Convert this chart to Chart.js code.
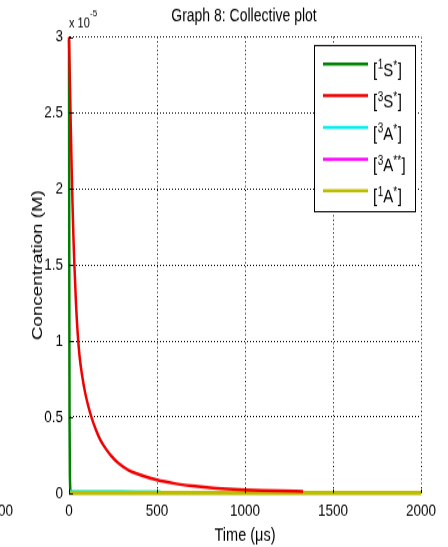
<!DOCTYPE html>
<html>
<head>
<meta charset="utf-8">
<title>Graph 8: Collective plot</title>
<script src="https://cdn.jsdelivr.net/npm/chart.js@4.4.1/dist/chart.umd.min.js"></script>
<style>
  html, body { margin: 0; padding: 0; background: #fff; }
  #figure { width: 448px; height: 547px; overflow: hidden; }
  /* the figure is drawn 438px tall and stretched to fill 547px */
  #wrap { width: 448px; height: 438px; transform: scaleY(1.24886); transform-origin: 0 0; }
  canvas { display: block; }
</style>
</head>
<body>
<div id="figure"><div id="wrap"><canvas id="collective" width="448" height="438"></canvas></div></div>
<script>
/* Concentrations are in units of 1e-5 M, times in microseconds */

const timeS1 = [0, 1, 2, 3, 5, 10, 50, 500, 1000, 2000];
const concS1 = [2.98, 2.0, 1.1, 0.5, 0.12, 0.01, 0, 0, 0, 0];

const timeS3 = [0, 5, 10, 15, 20, 25, 30, 40, 50, 60, 75, 90, 110, 130, 155, 180, 210, 240, 280, 340, 400, 500, 600, 700, 800, 900, 1000, 1100, 1200, 1330];
const concS3 = [3.0, 2.7, 2.42, 2.14, 1.9, 1.69, 1.52, 1.24, 1.04, 0.9, 0.77, 0.67, 0.57, 0.49, 0.41, 0.345, 0.29, 0.245, 0.197, 0.15, 0.122, 0.086, 0.063, 0.047, 0.035, 0.027, 0.021, 0.017, 0.014, 0.011];

const timeA3 = [0, 10, 100, 300, 520];
const concA3 = [0, 0.012, 0.013, 0.012, 0.011];

const timeA3b = [0, 500, 1000, 1500, 2000];
const concA3b = [0, 0, 0, 0, 0];

const timeA1 = [0, 500, 1000, 1500, 2000];
const concA1 = [0, 0, 0, 0, 0];

const xTicks = [0, 500, 1000, 1500, 2000];
const yTicks = [0, 0.5, 1, 1.5, 2, 2.5, 3];

// legend entries: [superscript before, species, superscript after]
const legendParts = [
  ['1', 'S', '*'],
  ['3', 'S', '*'],
  ['3', 'A', '*'],
  ['3', 'A', '**'],
  ['1', 'A', '*'],
];

const SANS = "'Liberation Sans', Arial, Helvetica, sans-serif";

function pts(ts, cs) {
  return ts.map((t, i) => ({ x: t, y: cs[i] }));
}

function series(label, ts, cs, color, width, order) {
  return {
    label,
    data: pts(ts, cs),
    borderColor: color,
    backgroundColor: color,
    borderWidth: width,
    pointRadius: 0,
    fill: false,
    clip: false,
    cubicInterpolationMode: 'monotone',
    order,
  };
}

const datasets = [
  series('[1S*]', timeS1, concS1, '#008000', 2.5, 4),
  series('[3S*]', timeS3, concS3, '#f00000', 2.5, 0),
  series('[3A*]', timeA3, concA3, '#00f0f0', 2, 2),
  series('[3A**]', timeA3b, concA3b, '#ff00ff', 2.5, 3),
  series('[1A*]', timeA1, concA1, '#bdbd00', 3.5, 1),
];

/* Title, exponent, inward ticks and the boxed legend */
const decorations = {
  id: 'decorations',
  afterDraw(chart) {
    const { ctx, chartArea, scales } = chart;
    const x = scales.x, y = scales.y;
    ctx.save();

    ctx.strokeStyle = '#000';
    ctx.lineWidth = 1;
    xTicks.forEach(v => {
      const px = Math.round(x.getPixelForValue(v)) + 0.5;
      ctx.beginPath();
      ctx.moveTo(px, chartArea.bottom);
      ctx.lineTo(px, chartArea.bottom - 3);
      ctx.stroke();
    });
    yTicks.forEach(v => {
      const py = Math.round(y.getPixelForValue(v)) + 0.5;
      ctx.beginPath();
      ctx.moveTo(chartArea.left, py);
      ctx.lineTo(chartArea.left + 4, py);
      ctx.stroke();
    });

    ctx.fillStyle = '#000';
    ctx.textBaseline = 'alphabetic';
    ctx.textAlign = 'center';
    ctx.font = '14px ' + SANS;
    ctx.fillText('Graph 8: Collective plot', 244, 16.5);

    ctx.textAlign = 'left';
    ctx.font = '11px ' + SANS;
    ctx.fillText('x 10', 69, 21.5);
    ctx.font = '8px ' + SANS;
    ctx.fillText('-5', 90, 13);

    ctx.font = '13.5px ' + SANS;
    ctx.textAlign = 'right';
    ctx.fillText('00', 13, 413);

    // legend box
    const bx = 314.5, by = 36.5, bw = 101, bh = 133;
    ctx.fillStyle = '#fff';
    ctx.fillRect(bx, by, bw, bh);
    ctx.strokeRect(bx, by, bw, bh);

    ctx.textAlign = 'left';
    datasets.forEach((ds, i) => {
      const ly = 51.2 + i * 25.4;
      ctx.strokeStyle = ds.borderColor;
      ctx.lineWidth = 2.5;
      ctx.beginPath();
      ctx.moveTo(323, ly);
      ctx.lineTo(368, ly);
      ctx.stroke();

      const [pre, base, post] = legendParts[i];
      const baseY = ly + 9.6;
      let tx = 373;
      ctx.fillStyle = '#000';
      ctx.font = '15px ' + SANS;
      ctx.fillText('[', tx, baseY);
      tx += ctx.measureText('[').width + 0.5;
      ctx.font = '10px ' + SANS;
      ctx.fillText(pre, tx, baseY - 5.5);
      tx += ctx.measureText(pre).width;
      ctx.font = '15px ' + SANS;
      ctx.fillText(base, tx, baseY);
      tx += ctx.measureText(base).width;
      ctx.font = '10px ' + SANS;
      ctx.fillText(post, tx, baseY - 5);
      tx += ctx.measureText(post).width + 0.5;
      ctx.font = '15px ' + SANS;
      ctx.fillText(']', tx, baseY);
    });

    ctx.restore();
  }
};

new Chart(document.getElementById('collective'), {
  type: 'line',
  data: { datasets },
  plugins: [decorations],
  options: {
    responsive: false,
    animation: false,
    devicePixelRatio: 1,
    layout: { padding: { top: 29.6, right: 27, left: 0, bottom: 0 } },
    plugins: {
      legend: { display: false },
      tooltip: { enabled: false },
      title: { display: false },
    },
    scales: {
      x: {
        type: 'linear',
        min: 0,
        max: 2000,
        afterFit: s => { s.height = 43.2; },
        afterBuildTicks: s => { s.ticks = xTicks.map(v => ({ value: v })); },
        grid: { color: '#000', lineWidth: 1, drawTicks: false },
        border: { display: true, color: '#000', width: 1, dash: [1, 2.4] },
        ticks: {
          color: '#000',
          padding: 6,
          maxRotation: 0,
          font: { family: SANS, size: 13.5 },
          callback: v => String(v),
        },
        title: {
          display: true,
          text: 'Time (\u03bcs)',
          color: '#000',
          font: { family: SANS, size: 14.5 },
          padding: { top: 0, bottom: 0 },
        },
      },
      y: {
        type: 'linear',
        min: 0,
        max: 3,
        afterFit: s => { s.width = 69; },
        afterBuildTicks: s => { s.ticks = yTicks.map(v => ({ value: v })); },
        grid: { color: '#000', lineWidth: 1, drawTicks: false },
        border: { display: true, color: '#000', width: 1, dash: [1, 2] },
        ticks: {
          color: '#000',
          padding: 6,
          font: { family: SANS, size: 13.5 },
          callback: v => String(v),
        },
        title: {
          display: true,
          text: 'Concentration (M)',
          color: '#000',
          font: { family: SANS, size: 15 },
          padding: { top: 29, bottom: 0 },
        },
      },
    },
  },
});
</script>
</body>
</html>
